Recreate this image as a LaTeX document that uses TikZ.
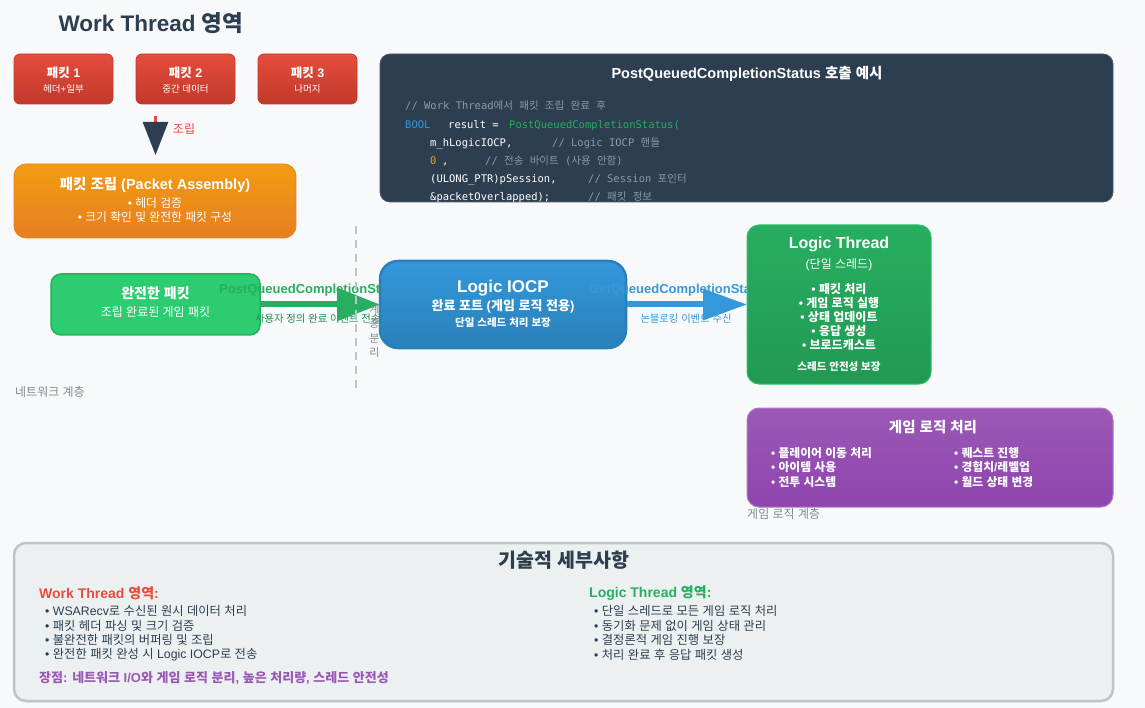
\documentclass[tikz,border=0pt]{standalone}
\usepackage{fontspec}
\setmainfont{Liberation Sans}
\setmonofont{DejaVu Sans Mono}
\newfontfamily\krfont{Noto Sans CJK KR}
\XeTeXinterchartokenstate=1
\newXeTeXintercharclass\hangulclass
\makeatletter
\count@="AC00
\loop
  \XeTeXcharclass\count@=\hangulclass
  \ifnum\count@<"D7A3 \advance\count@ by 1 \repeat
\makeatother
\XeTeXinterchartoks 0 \hangulclass = {\begingroup\krfont}
\XeTeXinterchartoks 4095 \hangulclass = {\begingroup\krfont}
\XeTeXinterchartoks \hangulclass 0 = {\endgroup}
\XeTeXinterchartoks \hangulclass 4095 = {\endgroup}
\usetikzlibrary{arrows.meta}
\definecolor{bgc}{HTML}{F8F9FA}
\definecolor{dark}{HTML}{2C3E50}
\definecolor{redA}{HTML}{E74C3C}
\definecolor{redB}{HTML}{C0392B}
\definecolor{orA}{HTML}{F39C12}
\definecolor{orB}{HTML}{E67E22}
\definecolor{grA}{HTML}{2ECC71}
\definecolor{grB}{HTML}{27AE60}
\definecolor{grC}{HTML}{229954}
\definecolor{blA}{HTML}{3498DB}
\definecolor{blB}{HTML}{2980B9}
\definecolor{puA}{HTML}{9B59B6}
\definecolor{puB}{HTML}{8E44AD}
\definecolor{grayt}{HTML}{7F8C8D}
\definecolor{lgray}{HTML}{BDC3C7}
\definecolor{panel}{HTML}{ECF0F1}
\definecolor{cmt}{HTML}{8A9AA8}
\newcommand\fsz[2]{\fontsize{#1}{#2}\selectfont}
\tikzset{
  box/.style={rounded corners=#1, inner sep=0pt},
  txt/.style={inner sep=0pt, text=white},
  code/.style={inner sep=0pt, anchor=base west, font=\ttfamily\fsz{10.5}{12}},
}
\begin{document}
\begin{tikzpicture}[x=1pt,y=-1pt]
\fill[bgc] (0,0) rectangle (1145,708);
\useasboundingbox (0,0) rectangle (1145,708);

% title
\node[txt, text=dark, font=\bfseries\fsz{22.5}{26}] (title) at (151,23) {Work Thread 영역};

% packets
\foreach \nm/\cx/\a/\b in {p1/63.5/패킷 1/헤더+일부, p2/185.5/패킷 2/중간 데이터, p3/307.5/패킷 3/나머지}{
  \node[box=6pt, top color=redA, bottom color=redB, draw=redB, line width=0.8pt,
        minimum width=99pt, minimum height=50pt] (\nm) at (\cx,79) {};
  \node[txt, font=\bfseries\fsz{12.5}{14}] (\nm a) at (\cx,72.5) {\a};
  \node[txt, font=\fsz{9.5}{11}] (\nm b) at (\cx,89) {\b};
}

% assembly box
\node[box=12pt, top color=orA, bottom color=orB, draw=orB!80!orA, line width=0.8pt,
      minimum width=282pt, minimum height=74pt] (asm) at (155,201) {};
\node[txt, font=\bfseries\fsz{14.5}{16}] (asma) at (155,184.5) {패킷 조립 (Packet Assembly)};
\node[txt, font=\fsz{11.8}{13}] (asmb) at (155,203) {• 헤더 검증};
\node[txt, font=\fsz{11.8}{13}] (asmc) at (155,217.5) {• 크기 확인 및 완전한 패킷 구성};

% assemble arrow
\coordinate (as0) at (155.5,116);
\coordinate (as1) at (155.5,155);
\draw[redA, line width=2.5pt, -{Triangle[width=25pt,length=33pt,color=dark]}] (as0) -- (as1);
\node[txt, text=redA, font=\fsz{12}{13}] (asml) at (184,129) {조립};

% code box
\node[box=10pt, fill=dark, draw=dark!85!white, line width=0.8pt,
      minimum width=733pt, minimum height=148pt] (codebox) at (746.5,128) {};
\node[txt, font=\bfseries\fsz{14.5}{16}] (codet) at (747,74) {PostQueuedCompletionStatus 호출 예시};
\begin{scope}
\clip[rounded corners=10pt] (380.5,54.5) rectangle (1112.5,201.5);
\node[code, text=cmt] (c1) at (405,110) {// Work Thread에서 패킷 조립 완료 후};
\node[code, text=blA] (c2a) at (405,128.5) {BOOL};
\node[code, text=white] (c2b) at (448,128.5) {result =};
\node[code, text=grB] (c2c) at (509,128.5) {PostQueuedCompletionStatus(};
\node[code, text=white] (c3a) at (430,147) {m\_hLogicIOCP,};
\node[code, text=cmt] (c3b) at (552,147) {// Logic IOCP 핸들};
\node[code, text=orA] (c4a) at (430,165) {0};
\node[code, text=white] (c4b) at (442,165) {,};
\node[code, text=cmt] (c4c) at (485,165) {// 전송 바이트 (사용 안함)};
\node[code, text=white] (c5a) at (430,183) {(ULONG\_PTR)pSession,};
\node[code, text=cmt] (c5b) at (588,183) {// Session 포인터};
\node[code, text=white] (c6a) at (430,201) {\&packetOverlapped);};
\node[code, text=cmt] (c6b) at (588,201) {// 패킷 정보};
\end{scope}

% network layer label
\node[txt, text=grayt, font=\fsz{12}{13}, anchor=west] (netl) at (15,392) {네트워크 계층};

% complete packet
\node[box=10pt, fill=grA, draw=grB, line width=1.5pt,
      minimum width=209pt, minimum height=61pt] (cp) at (155.5,304.5) {};
\node[txt, font=\bfseries\fsz{14}{16}] (cpa) at (155.5,293.5) {완전한 패킷};
\node[txt, font=\fsz{12}{13}] (cpb) at (155.5,312.5) {조립 완료된 게임 패킷};

\coordinate (iocpW) at (380,304.5);

% green labels and arrow
\node[txt, text=grB, font=\bfseries\fsz{13}{15}, anchor=base west] (pqs) at (219,294) {PostQueuedCompletionStatus};
\node[txt, text=grB!80!black, font=\fsz{10.3}{12}, anchor=west] (pqsb) at (255,319) {사용자 정의 완료 이벤트 전송};
\draw[grB, line width=6pt, -{Triangle[width=32pt,length=43pt]}] (cp.east) -- (iocpW);

% dashed boundary
\coordinate (d0) at (356,226);
\coordinate (d1) at (356,390);
\draw[lgray, line width=2.5pt, dash pattern=on 8pt off 6pt] (d0) -- (d1);
\node[txt, text=grayt, font=\fsz{11}{14.5}, align=center] (vsep) at (374.5,331) {계\\층\\분\\리};

% logic IOCP
\node[box=18pt, top color=blA, bottom color=blB, draw=blB, line width=2.5pt,
      minimum width=246pt, minimum height=87pt] (iocp) at (503,304.5) {};
\node[txt, font=\bfseries\fsz{17}{19}] (iocpa) at (503,288) {Logic IOCP};
\node[txt, font=\bfseries\fsz{13}{15}] (iocpb) at (503,306) {완료 포트 (게임 로직 전용)};
\node[txt, font=\bfseries\fsz{10.5}{12}] (iocpc) at (503,323) {단일 스레드 처리 보장};

% blue labels and arrow
\node[txt, text=blA, font=\bfseries\fsz{13}{15}, anchor=base west] (gqs) at (589,294) {GetQueuedCompletionStatus};
\node[txt, text=blA, font=\fsz{10.3}{12}] (gqsb) at (686,319) {논블로킹 이벤트 수신};
\coordinate (ltW) at (747,304.5);
\draw[blA, line width=6pt, -{Triangle[width=30pt,length=44pt]}] (iocp.east) -- (ltW);

% logic thread
\node[box=12pt, top color=grB, bottom color=grC, draw=grA!70!grB, line width=1pt,
      minimum width=184pt, minimum height=159pt] (lt) at (839,304.5) {};
\node[txt, font=\bfseries\fsz{16}{18}] (lta) at (839,244.5) {Logic Thread};
\node[txt, font=\fsz{12}{14}] (ltb) at (839,265) {(단일 스레드)};
\node[txt, font=\bfseries\fsz{12}{14}] (ltc) at (839,289) {• 패킷 처리};
\node[txt, font=\bfseries\fsz{12}{14}] (ltd) at (839,303) {• 게임 로직 실행};
\node[txt, font=\bfseries\fsz{12}{14}] (lte) at (839,317) {• 상태 업데이트};
\node[txt, font=\bfseries\fsz{12}{14}] (ltf) at (839,331) {• 응답 생성};
\node[txt, font=\bfseries\fsz{12}{14}] (ltg) at (839,345.5) {• 브로드캐스트};
\node[txt, font=\bfseries\fsz{10.5}{12}] (lth) at (839,367) {스레드 안전성 보장};

% game logic box
\node[box=12pt, top color=puA, bottom color=puB, draw=puA!80!white, line width=1pt,
      minimum width=366pt, minimum height=99pt] (gl) at (930,457.5) {};
\node[txt, font=\bfseries\fsz{14.5}{16}] (gla) at (933,427) {게임 로직 처리};
\node[txt, font=\bfseries\fsz{11.8}{13}, anchor=west] (gl1) at (771,453) {• 플레이어 이동 처리};
\node[txt, font=\bfseries\fsz{11.8}{13}, anchor=west] (gl2) at (771,467.5) {• 아이템 사용};
\node[txt, font=\bfseries\fsz{11.8}{13}, anchor=west] (gl3) at (771,482) {• 전투 시스템};
\node[txt, font=\bfseries\fsz{11.8}{13}, anchor=west] (gl4) at (954,453) {• 퀘스트 진행};
\node[txt, font=\bfseries\fsz{11.8}{13}, anchor=west] (gl5) at (954,467.5) {• 경험치/레벨업};
\node[txt, font=\bfseries\fsz{11.8}{13}, anchor=west] (gl6) at (954,482) {• 월드 상태 변경};
\node[txt, text=grayt, font=\fsz{12}{13}, anchor=west] (gll) at (747,514) {게임 로직 계층};

% details panel
\node[box=12pt, fill=panel, draw=lgray, line width=2.5pt,
      minimum width=1099pt, minimum height=158pt] (det) at (563.5,622) {};
\node[txt, text=dark, font=\bfseries\fsz{19.5}{21}] (deta) at (564,560.5) {기술적 세부사항};
\node[txt, text=redA, font=\bfseries\fsz{14}{15}, anchor=west] (dw) at (39,593) {Work Thread 영역:};
\node[txt, text=dark, font=\fsz{12.3}{13}, anchor=west] (dw1) at (45,611) {• WSARecv로 수신된 원시 데이터 처리};
\node[txt, text=dark, font=\fsz{12.3}{13}, anchor=west] (dw2) at (45,625.5) {• 패킷 헤더 파싱 및 크기 검증};
\node[txt, text=dark, font=\fsz{12.3}{13}, anchor=west] (dw3) at (45,640) {• 불완전한 패킷의 버퍼링 및 조립};
\node[txt, text=dark, font=\fsz{12.3}{13}, anchor=west] (dw4) at (45,655) {• 완전한 패킷 완성 시 Logic IOCP로 전송};
\node[txt, text=puA, font=\bfseries\fsz{13}{14}, anchor=west] (dadv) at (39,678) {장점: 네트워크 I/O와 게임 로직 분리, 높은 처리량, 스레드 안전성};
\node[txt, text=grB, font=\bfseries\fsz{14}{15}, anchor=west] (dl) at (589,593) {Logic Thread 영역:};
\node[txt, text=dark, font=\fsz{12.3}{13}, anchor=west] (dl1) at (594,611) {• 단일 스레드로 모든 게임 로직 처리};
\node[txt, text=dark, font=\fsz{12.3}{13}, anchor=west] (dl2) at (594,625.5) {• 동기화 문제 없이 게임 상태 관리};
\node[txt, text=dark, font=\fsz{12.3}{13}, anchor=west] (dl3) at (594,640) {• 결정론적 게임 진행 보장};
\node[txt, text=dark, font=\fsz{12.3}{13}, anchor=west] (dl4) at (594,655) {• 처리 완료 후 응답 패킷 생성};
\end{tikzpicture}
\end{document}
